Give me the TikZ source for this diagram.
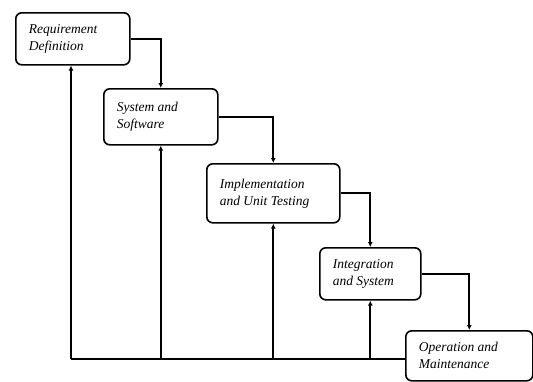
\documentclass[tikz,border=0pt]{standalone}
\usepackage{fontspec}
\setmainfont{Liberation Serif}
\usetikzlibrary{arrows.meta}
\begin{document}
\begin{tikzpicture}[x=1pt,y=-1pt,
  phase/.style={draw, line width=1.6pt, rounded corners=6pt, inner xsep=13pt, inner ysep=0pt,
    align=flush left, font=\fontsize{13.5}{17}\selectfont\itshape, anchor=north west},
  link/.style={line width=1.8pt},
  flow/.style={link, -{Latex[length=5pt,width=5pt]}}]
\useasboundingbox (0,0) rectangle (533,381);
\node[phase, minimum width=114pt, minimum height=52pt, text width=88pt] (b1) at (15,12) {Requirement\\Definition};
\node[phase, minimum width=114pt, minimum height=56pt, text width=88pt] (b2) at (103,88) {System and\\Software};
\node[phase, minimum width=133pt, minimum height=59pt, inner xsep=13pt, text width=107pt] (b3) at (206,163) {Implementation\\and Unit Testing};
\node[phase, minimum width=101pt, minimum height=52pt, text width=75pt] (b4) at (319,247) {Integration\\and System};
\node[phase, minimum width=127pt, minimum height=50pt, text width=101pt] (b5) at (405,330) {Operation and\\Maintenance};
\coordinate (base) at (71,359);
\draw[flow] (b1.east) -| (b2.north);
\draw[flow] (b2.east) -| (b3.north);
\draw[flow] (b3.east) -| (b4.north);
\draw[flow] (b4.east) -| (b5.north);
\draw[link] (base) -- (base -| b5.west);
\draw[flow] (base) -- (b1.south -| base);
\draw[flow] (base -| b2.south) -- (b2.south);
\draw[flow] (base -| b3.south) -- (b3.south);
\draw[flow] (base -| b4.south) -- (b4.south);
\end{tikzpicture}
\end{document}
